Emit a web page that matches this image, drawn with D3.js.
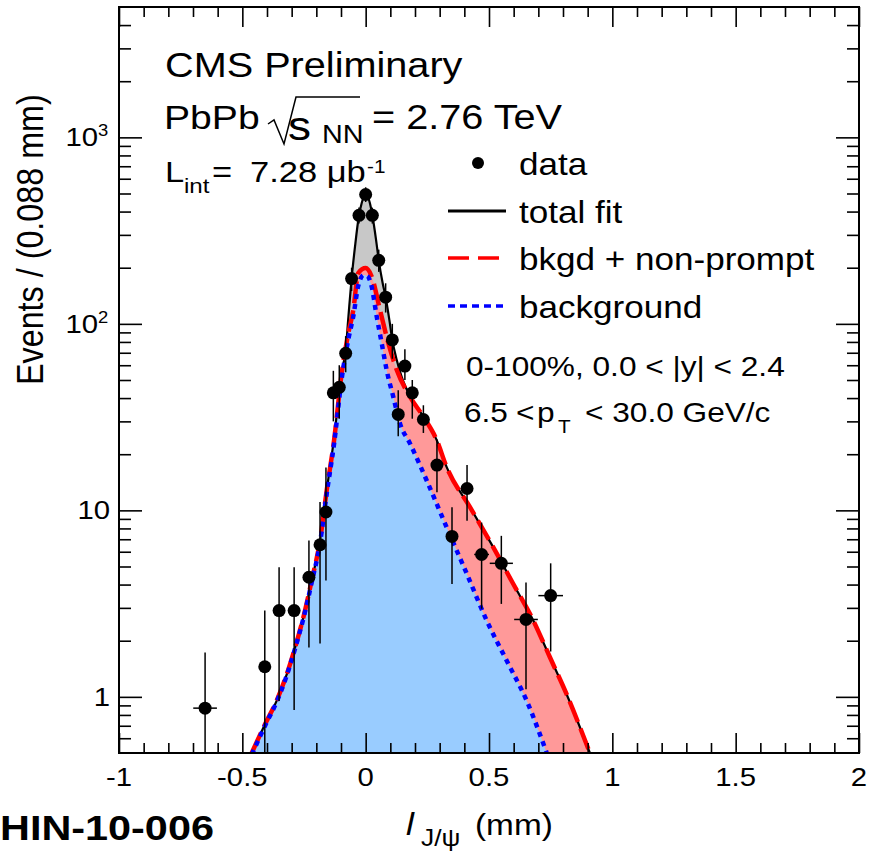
<!DOCTYPE html>
<html>
<head>
<meta charset="utf-8">
<script src="https://cdn.jsdelivr.net/npm/d3@7"></script>
<style>
  body { margin: 0; background: #fff; }
  text { font-family: "Liberation Sans", Arial, Helvetica, sans-serif; fill: #000; }
</style>
</head>
<body>
<div id="chart"></div>
<script>
// data points (bin centre, value, error bar ends, half bin width)
const dataX    = [-0.651, -0.409, -0.351, -0.290, -0.230, -0.185, -0.161, -0.131, -0.107, -0.081, -0.057, -0.027, 0.000, 0.027, 0.053, 0.081, 0.108, 0.132, 0.159, 0.189, 0.234, 0.289, 0.350, 0.411, 0.470, 0.550, 0.650, 0.750]
const dataY    = [0.87, 1.45, 2.9, 2.9, 4.38, 6.54, 9.8, 42.7, 45.7, 69.5, 175, 382, 494, 382, 219, 139, 82, 32.7, 59.4, 42.7, 30.7, 17.5, 7.25, 13.1, 5.8, 5.2, 2.6, 3.49]
const dataLo   = [0.3, 0.3, 0.95, 0.85, 1.84, 1.93, 4.2, 30, 31, 55, 150, 345, 450, 345, 190, 115, 65, 25, 50, 31, 26, 12.5, 4.03, 8.8, 2.97, 3.15, 1.1, 1.75]
const dataHi   = [1.73, 2.9, 4.95, 4.95, 6.9, 11.1, 17, 56, 60, 86, 200, 420, 540, 420, 250, 165, 100, 44, 73, 50, 36.6, 24, 10.4, 17.5, 8.6, 7.3, 4.1, 5.2]
const dataXerr = [0.048, 0.022, 0.022, 0.022, 0.02, 0.015, 0.012, 0.012, 0.012, 0.012, 0.012, 0.012, 0.012, 0.012, 0.012, 0.012, 0.012, 0.012, 0.012, 0.015, 0.02, 0.02, 0.02, 0.02, 0.03, 0.047, 0.048, 0.05]

// total fit (black)
const totalX = [-0.462, -0.408, -0.361, -0.320, -0.286, -0.246, -0.219, -0.185, -0.158, -0.128, -0.097, -0.081, -0.070, -0.057, -0.043, -0.027, -0.016, 0.000, 0.017, 0.027, 0.042, 0.053, 0.069, 0.081, 0.096, 0.108, 0.126, 0.146, 0.180, 0.234, 0.288, 0.328, 0.423, 0.517, 0.598, 0.680, 0.747, 0.815, 0.909]
const totalY = [0.5, 0.713, 0.952, 1.32, 1.84, 2.90, 4.2, 6.9, 12.8, 24.5, 55.5, 72, 109, 175, 261, 382, 445, 500, 445, 382, 283, 219, 165, 139, 105, 82, 64, 52, 41, 31.8, 23.8, 17.1, 10.4, 6.35, 4.04, 2.56, 1.63, 1.03, 0.5]

// background + non-prompt (red dashed)
const nonpromptX = [-0.462, -0.408, -0.361, -0.320, -0.286, -0.246, -0.219, -0.185, -0.158, -0.128, -0.097, -0.070, -0.050, -0.030, 0.000, 0.024, 0.058, 0.092, 0.126, 0.180, 0.234, 0.288, 0.328, 0.423, 0.517, 0.598, 0.680, 0.747, 0.815, 0.909]
const nonpromptY = [0.5, 0.713, 0.952, 1.32, 1.84, 2.90, 4.2, 6.9, 12.8, 23.8, 54.5, 89.5, 119, 187, 199, 180, 119, 78.8, 56.6, 40.6, 31.8, 23.8, 17.1, 10.4, 6.35, 4.04, 2.56, 1.63, 1.03, 0.5]

// background (blue dotted)
const bkgX = [-0.462, -0.408, -0.361, -0.320, -0.286, -0.246, -0.219, -0.185, -0.158, -0.128, -0.097, -0.070, -0.050, -0.030, -0.008, 0.008, 0.024, 0.045, 0.065, 0.085, 0.112, 0.139, 0.180, 0.247, 0.328, 0.410, 0.491, 0.572, 0.653, 0.734]
const bkgY = [0.49, 0.70, 0.94, 1.30, 1.82, 2.85, 4.1, 6.7, 12.3, 22.8, 51, 83, 110, 160, 183, 180, 159, 109, 78.8, 56.6, 40.6, 29.3, 22.8, 14.5, 8.13, 4.57, 2.56, 1.56, 0.952, 0.5]

const xMajor = [-1, -0.5, 0, 0.5, 1, 1.5, 2]
const xMinor = d3.range(-10, 21).map(d => d / 10).filter(d => Math.abs(d * 2 - Math.round(d * 2)) > 1e-6)
const yMajor = [1, 10, 100, 1000]
const yMajorLabels = [["1", ""], ["10", ""], ["10", "2"], ["10", "3"]]
const yMinor = [0.6, 0.7, 0.8, 0.9, 2, 3, 4, 5, 6, 7, 8, 9, 20, 30, 40, 50, 60, 70, 80, 90, 200, 300, 400, 500, 600, 700, 800, 900, 2000, 3000, 4000]

const width = 869
const height = 852
const margin = {top: 7, right: 10, bottom: 99, left: 119}
const SX = 1.15   // the picture is a little wider than tall

const svg = d3.select("#chart")
    .append("svg")
    .attr("width", width)
    .attr("height", height)

const x = d3.scaleLinear()
    .domain([-1, 2])
    .range([margin.left, width - margin.right])

const y = d3.scaleLog()
    .domain([0.5, 5000])
    .range([height - margin.bottom, margin.top])

const x0 = margin.left, x1 = width - margin.right
const y0 = height - margin.bottom, y1 = margin.top

svg.append("defs").append("clipPath").attr("id", "frame")
    .append("rect")
    .attr("x", x0).attr("y", y1)
    .attr("width", x1 - x0).attr("height", y0 - y1)

const plot = svg.append("g").attr("clip-path", "url(#frame)")

const pts = (xs, ys) => xs.map((v, i) => [v, ys[i]])
const total = pts(totalX, totalY)
const nonprompt = pts(nonpromptX, nonpromptY)
const bkg = pts(bkgX, bkgY)

const area = d3.area()
    .x(d => x(d[0]))
    .y0(y0 + 5)
    .y1(d => y(d[1]))
    .curve(d3.curveMonotoneX)

const line = d3.line()
    .x(d => x(d[0]))
    .y(d => y(d[1]))
    .curve(d3.curveMonotoneX)

// filled areas
plot.append("path").datum(total).attr("d", area).attr("fill", "#c8c8c8")
plot.append("path").datum(nonprompt).attr("d", area).attr("fill", "#ff9999")
plot.append("path").datum(bkg).attr("d", area).attr("fill", "#99ccff")

// curves
plot.append("path").datum(total).attr("d", line)
    .attr("fill", "none").attr("stroke", "#000").attr("stroke-width", 2.2)
plot.append("path").datum(nonprompt).attr("d", line)
    .attr("fill", "none").attr("stroke", "#ff0000").attr("stroke-width", 4.5)
    .attr("stroke-dasharray", "22,7")
plot.append("path").datum(bkg).attr("d", line)
    .attr("fill", "none").attr("stroke", "#0000ff").attr("stroke-width", 4.5)
    .attr("stroke-dasharray", "5,5")

// data points
const data = dataX.map((v, i) => ({x: v, y: dataY[i], lo: dataLo[i], hi: dataHi[i], xe: dataXerr[i]}))
const pg = plot.append("g").attr("stroke", "#000").attr("stroke-width", 1.5)
pg.selectAll("line.v").data(data).join("line").attr("class", "v")
    .attr("x1", d => x(d.x)).attr("x2", d => x(d.x))
    .attr("y1", d => y(d.lo)).attr("y2", d => y(d.hi))
pg.selectAll("line.h").data(data).join("line").attr("class", "h")
    .attr("x1", d => x(d.x - d.xe)).attr("x2", d => x(d.x + d.xe))
    .attr("y1", d => y(d.y)).attr("y2", d => y(d.y))
plot.append("g").selectAll("circle").data(data).join("circle")
    .attr("cx", d => x(d.x)).attr("cy", d => y(d.y)).attr("r", 6.5)
    .attr("fill", "#000")

// axes with inward ticks on all four sides
const axisStyle = g => g.call(g => g.select(".domain").remove())
    .call(g => g.selectAll(".tick line").attr("stroke", "#000").attr("stroke-width", 1.6))
    .call(g => g.selectAll(".tick text").remove())

svg.append("g").attr("transform", `translate(0,${y0})`)
    .call(d3.axisBottom(x).tickValues(xMajor).tickSize(-20)).call(axisStyle)
svg.append("g").attr("transform", `translate(0,${y0})`)
    .call(d3.axisBottom(x).tickValues(xMinor).tickSize(-10)).call(axisStyle)
svg.append("g").attr("transform", `translate(0,${y1})`)
    .call(d3.axisTop(x).tickValues(xMajor).tickSize(-20)).call(axisStyle)
svg.append("g").attr("transform", `translate(0,${y1})`)
    .call(d3.axisTop(x).tickValues(xMinor).tickSize(-10)).call(axisStyle)
svg.append("g").attr("transform", `translate(${x0},0)`)
    .call(d3.axisLeft(y).tickValues(yMajor).tickSize(-23)).call(axisStyle)
svg.append("g").attr("transform", `translate(${x0},0)`)
    .call(d3.axisLeft(y).tickValues(yMinor).tickSize(-12)).call(axisStyle)
svg.append("g").attr("transform", `translate(${x1},0)`)
    .call(d3.axisRight(y).tickValues(yMajor).tickSize(-23)).call(axisStyle)
svg.append("g").attr("transform", `translate(${x1},0)`)
    .call(d3.axisRight(y).tickValues(yMinor).tickSize(-12)).call(axisStyle)

svg.append("rect")
    .attr("x", x0).attr("y", y1)
    .attr("width", x1 - x0).attr("height", y0 - y1)
    .attr("fill", "none").attr("stroke", "#000").attr("stroke-width", 2)

// helper for stretched text
const label = (px, py, str, size, opts = {}) => {
    const t = svg.append("text")
        .attr("transform", `translate(${px},${py}) scale(${SX},1)`)
        .attr("font-size", size)
        .attr("text-anchor", opts.anchor || "start")
        .text(str)
    if (opts.bold) t.attr("font-weight", "bold")
    if (opts.italic) t.attr("font-style", "italic")
    return t
}

// tick labels
xMajor.forEach(v => label(x(v), 786, String(v), 25.5, {anchor: "middle"}))
yMajor.forEach((v, i) => {
    const [base, exp] = yMajorLabels[i]
    label(exp ? 98 : 110, y(v) + 9, base, 25.5, {anchor: "end"})
    if (exp) label(98, y(v) - 1, exp, 16)
})

// axis titles
svg.append("text")
    .attr("transform", `translate(43,385) scale(${SX},1) rotate(-90)`)
    .attr("font-size", 32.3)
    .text("Events / (0.088 mm)")
label(406, 835, "l", 31, {italic: true})
label(421, 846, "J/ψ", 23)
label(475, 835, "(mm)", 29)
label(0, 840, "HIN-10-006", 36, {bold: true})

// header texts
label(165, 77, "CMS Preliminary", 34.5)
label(164, 129, "PbPb", 34)
svg.append("path")
    .attr("d", "M268,124 L274,120 L284,144 L296,97 L360,97")
    .attr("fill", "none").attr("stroke", "#000").attr("stroke-width", 1.5)
label(288, 140, "s", 40)
label(322, 143, "NN", 25)
label(372, 129, "= 2.76 TeV", 34.5)
label(165, 182, "L", 30)
label(184, 193, "int", 21)
label(212, 182, "=", 30)
label(250, 182, "7.28 μb", 30)
label(367, 173, "-1", 18)

// legend
const legendY = [163, 211, 258, 306]
svg.append("circle").attr("cx", 478).attr("cy", legendY[0]).attr("r", 6)
svg.append("line").attr("x1", 448).attr("x2", 506).attr("y1", legendY[1]).attr("y2", legendY[1])
    .attr("stroke", "#000").attr("stroke-width", 3)
svg.append("line").attr("x1", 448).attr("x2", 506).attr("y1", legendY[2]).attr("y2", legendY[2])
    .attr("stroke", "#ff0000").attr("stroke-width", 3.5).attr("stroke-dasharray", "21,9")
svg.append("line").attr("x1", 448).attr("x2", 506).attr("y1", legendY[3]).attr("y2", legendY[3])
    .attr("stroke", "#0000ff").attr("stroke-width", 3.5).attr("stroke-dasharray", "7,5")
const legendText = ["data", "total fit", "bkgd + non-prompt", "background"]
legendText.forEach((s, i) => label(519, legendY[i] + 12, s, 30.5))

label(466, 376, "0-100%, 0.0 < |y| < 2.4", 27.5)
label(464, 422, "6.5", 27.5)
label(516, 422, "<", 27.5)
label(537, 422, "p", 27.5)
label(558, 433, "T", 18)
label(585, 422, "< 30.0 GeV/c", 27.5)
</script>
</body>
</html>
